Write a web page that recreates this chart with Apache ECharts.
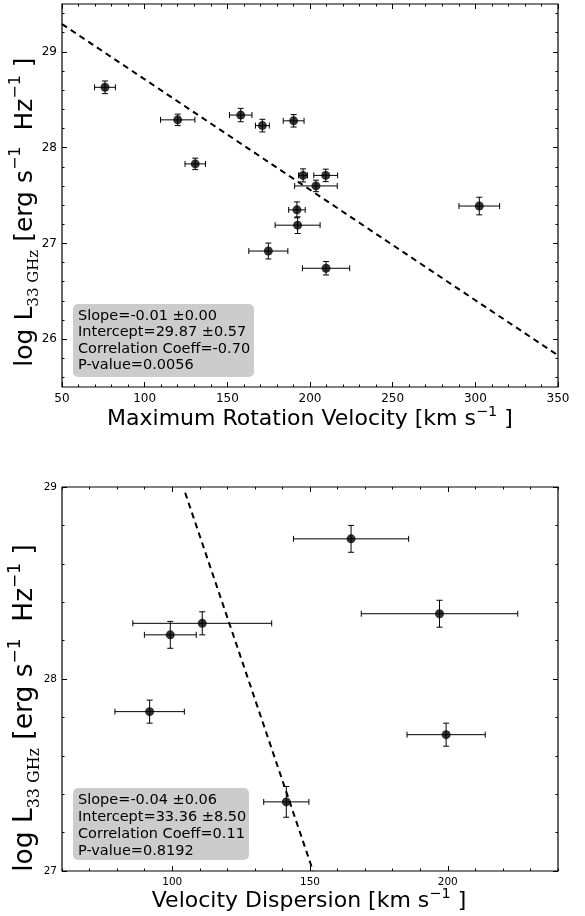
<!DOCTYPE html>
<html><head><meta charset="utf-8">
<script src="https://cdn.jsdelivr.net/npm/echarts@6/dist/echarts.min.js"></script>
<style>html,body{margin:0;padding:0;background:#fff}#c{width:585px;height:916px}</style>
</head><body><div id="c"></div>
<script>
// ---- Top panel: maximum rotation velocity ----
const rotVel    = [76.0, 120.0, 130.6, 158.1, 171.2, 190.1, 195.8, 209.5, 203.6, 192.1, 192.5, 174.8, 209.7, 302.4];
const rotVelErr = [6.3, 10.4, 6.2, 6.8, 4.2, 6.3, 2.7, 7.2, 12.9, 5.0, 13.6, 11.8, 14.3, 12.3];
const rotLum    = [28.63, 28.29, 27.83, 28.34, 28.23, 28.28, 27.71, 27.71, 27.60, 27.35, 27.19, 26.92, 26.74, 27.39];
const rotLumErr = [0.066, 0.06, 0.06, 0.07, 0.066, 0.065, 0.068, 0.065, 0.06, 0.083, 0.087, 0.083, 0.07, 0.092];
const rotFitX = [50, 350];
const rotFitY = [29.29, 25.83];
const rotXTicks = [50, 100, 150, 200, 250, 300, 350];
const rotYTicks = [26, 27, 28, 29];
const rotStats = ['Slope=-0.01 \u00b10.00', 'Intercept=29.87 \u00b10.57', 'Correlation Coeff=-0.70', 'P-value=0.0056'];

// ---- Bottom panel: velocity dispersion ----
const dispVel    = [164.9, 197.0, 110.9, 99.3, 91.8, 199.4, 141.4];
const dispVelErr = [20.9, 28.4, 25.2, 9.4, 12.6, 14.2, 8.2];
const dispLum    = [28.73, 28.34, 28.29, 28.23, 27.83, 27.71, 27.36];
const dispLumErr = [0.07, 0.07, 0.06, 0.07, 0.06, 0.06, 0.08];
const dispFitX = [104.7, 151.1];
const dispFitY = [28.97, 27.0];
const dispXTicks = [100, 150, 200];
const dispYTicks = [27, 28, 29];
const dispStats = ['Slope=-0.04 \u00b10.06', 'Intercept=33.36 \u00b18.50', 'Correlation Coeff=0.11', 'P-value=0.8192'];

const FONT = 'DejaVu Sans';

function range(a, b, step) {
  const out = [];
  for (let v = a; v <= b + 1e-9; v += step) out.push(Math.round(v * 1000) / 1000);
  return out;
}
function minorOf(a, b, step, majors) {
  return range(a, b, step).filter(v => !majors.some(m => Math.abs(m - v) < 1e-6));
}

function axisSet(dim, gridIndex, min, max, majors, minors, labelSize) {
  const main = dim === 'x' ? 'bottom' : 'left';
  const opp = dim === 'x' ? 'top' : 'right';
  const base = {
    type: 'value', gridIndex, min, max, splitLine: { show: false },
    axisLine: { show: false }
  };
  const tickStyle = { color: '#000', width: 1 };
  return [
    Object.assign({}, base, {
      position: main,
      axisTick: { show: true, inside: true, length: 5, lineStyle: tickStyle, customValues: majors },
      axisLabel: { show: true, customValues: majors, fontFamily: FONT, fontSize: labelSize, color: '#000', margin: dim === 'x' ? 6 : 5 }
    }),
    Object.assign({}, base, {
      position: main,
      axisTick: { show: true, inside: true, length: 2.5, lineStyle: tickStyle, customValues: minors },
      axisLabel: { show: false }
    }),
    Object.assign({}, base, {
      position: opp,
      axisTick: { show: true, inside: true, length: 5, lineStyle: tickStyle, customValues: majors },
      axisLabel: { show: false }
    }),
    Object.assign({}, base, {
      position: opp,
      axisTick: { show: true, inside: true, length: 2.5, lineStyle: tickStyle, customValues: minors },
      axisLabel: { show: false }
    })
  ];
}

function errRender(params, api) {
  const x = api.value(0), y = api.value(1), ex = api.value(2), ey = api.value(3);
  const l = api.coord([x - ex, y]), r = api.coord([x + ex, y]);
  const t = api.coord([x, y + ey]), b = api.coord([x, y - ey]);
  const c = 3;
  const st = { stroke: '#000', lineWidth: 1 };
  return {
    type: 'group',
    children: [
      { type: 'line', shape: { x1: l[0], y1: l[1], x2: r[0], y2: r[1] }, style: st },
      { type: 'line', shape: { x1: l[0], y1: l[1] - c, x2: l[0], y2: l[1] + c }, style: st },
      { type: 'line', shape: { x1: r[0], y1: r[1] - c, x2: r[0], y2: r[1] + c }, style: st },
      { type: 'line', shape: { x1: t[0], y1: t[1], x2: b[0], y2: b[1] }, style: st },
      { type: 'line', shape: { x1: t[0] - c, y1: t[1], x2: t[0] + c, y2: t[1] }, style: st },
      { type: 'line', shape: { x1: b[0] - c, y1: b[1], x2: b[0] + c, y2: b[1] }, style: st }
    ]
  };
}

function zip4(a, b, c, d) { return a.map((v, i) => [v, b[i], c[i], d[i]]); }
function zip2(a, b) { return a.map((v, i) => [v, b[i]]); }

const grids = [
  { left: 62, top: 4, width: 496, height: 383, show: true, borderColor: '#000', borderWidth: 1.2, backgroundColor: '#fff' },
  { left: 62, top: 487, width: 496, height: 384, show: true, borderColor: '#000', borderWidth: 1.2, backgroundColor: '#fff' }
];

const xAxes = [].concat(
  axisSet('x', 0, 50, 350, rotXTicks, minorOf(50, 350, 10, rotXTicks), 12),
  axisSet('x', 1, 60, 240, dispXTicks, minorOf(60, 240, 10, dispXTicks), 10.5)
);
const yAxes = [].concat(
  axisSet('y', 0, 25.5, 29.5, rotYTicks, minorOf(25.6, 29.4, 0.2, rotYTicks), 12),
  axisSet('y', 1, 27, 29, dispYTicks, minorOf(27, 29, 0.2, dispYTicks), 10.5)
);

function panelSeries(xi, yi, xs, xe, ys, ye, fx, fy) {
  return [
    {
      type: 'line', xAxisIndex: xi, yAxisIndex: yi, data: zip2(fx, fy), symbol: 'none',
      lineStyle: { color: '#000', width: 2, type: [6, 4.5] }, z: 2, silent: true
    },
    {
      type: 'custom', xAxisIndex: xi, yAxisIndex: yi, renderItem: errRender,
      data: zip4(xs, ys, xe, ye), encode: { x: 0, y: 1 }, z: 3, clip: true
    },
    {
      type: 'scatter', xAxisIndex: xi, yAxisIndex: yi, data: zip2(xs, ys),
      symbol: 'circle', symbolSize: 9, itemStyle: { color: '#000' }, z: 4
    }
  ];
}

function yLabel(cx, cy, fs) {
  return {
    type: 'text', x: cx, y: cy, rotation: Math.PI / 2,
    style: {
      text: '{a|log L}{sub|33 GHz}{a| [erg s}{sup|\u22121}{a|  Hz}{sup|\u22121}{a| ]}',
      align: 'center', verticalAlign: 'middle', fill: '#000',
      rich: {
        a: { fontFamily: FONT, fontSize: fs, lineHeight: fs * 1.35, verticalAlign: 'middle' },
        sub: { fontFamily: 'DejaVu Serif', fontSize: fs * 0.6, lineHeight: fs * 0.62, verticalAlign: 'bottom' },
        sup: { fontFamily: FONT, fontSize: fs * 0.64, lineHeight: fs * 0.64, verticalAlign: 'top' }
      }
    }
  };
}
function xLabel(cx, cy, name) {
  return {
    type: 'text', x: cx, y: cy,
    style: {
      text: '{a|' + name + ' [km s}{sup|\u22121}{a| ]}',
      align: 'center', verticalAlign: 'middle', fill: '#000',
      rich: {
        a: { fontFamily: FONT, fontSize: 22, lineHeight: 29, verticalAlign: 'middle' },
        sup: { fontFamily: FONT, fontSize: 14.5, lineHeight: 14, verticalAlign: 'top' }
      }
    }
  };
}
function statBox(x, y, w, h, lines, lh) {
  return {
    type: 'group', x, y, z: 100,
    children: [
      { type: 'rect', shape: { x: 0, y: 0, width: w, height: h, r: 5 }, style: { fill: '#cccccc' } },
      {
        type: 'text', x: 5, y: 3.5,
        style: { text: lines.join('\n'), fontFamily: FONT, fontSize: 14.5, lineHeight: lh, fill: '#000' }
      }
    ]
  };
}

const chart = echarts.init(document.getElementById('c'), null, { renderer: 'canvas' });
chart.setOption({
  animation: false,
  backgroundColor: '#fff',
  grid: grids,
  xAxis: xAxes,
  yAxis: yAxes,
  series: [].concat(
    panelSeries(0, 0, rotVel, rotVelErr, rotLum, rotLumErr, rotFitX, rotFitY),
    panelSeries(4, 4, dispVel, dispVelErr, dispLum, dispLumErr, dispFitX, dispFitY)
  ),
  graphic: [
    yLabel(25, 212, 25),
    yLabel(25, 708, 26.5),
    xLabel(310, 419, 'Maximum Rotation Velocity'),
    xLabel(309, 901, 'Velocity Dispersion'),
    statBox(73, 304, 181, 73, rotStats, 16.5),
    statBox(73, 788, 176, 72, dispStats, 17)
  ]
});
</script>
</body></html>
